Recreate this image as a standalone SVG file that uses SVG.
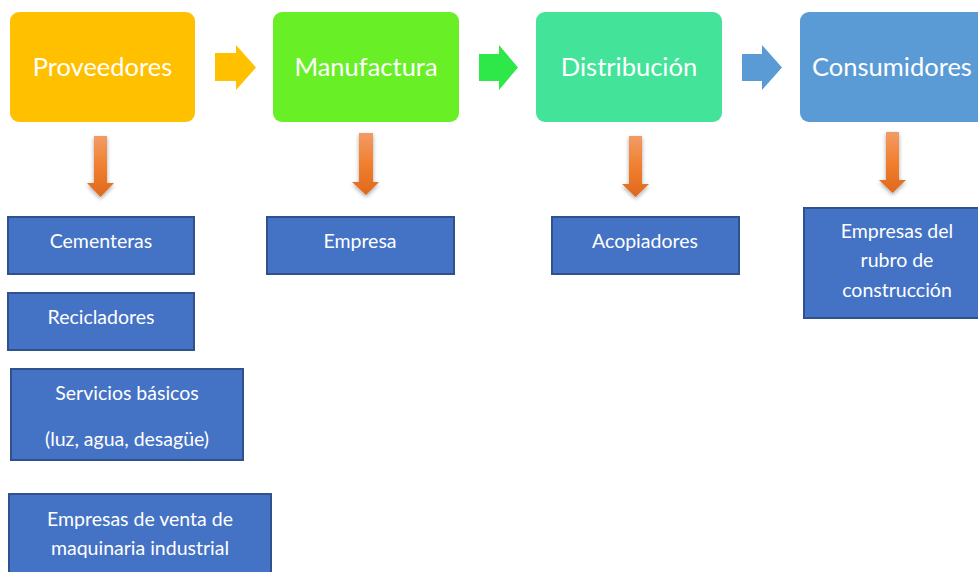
<svg xmlns="http://www.w3.org/2000/svg" width="978" height="572" viewBox="0 0 978 572">
<defs>
<style>
.hdr{font-family:Lato,"Open Sans",sans-serif;font-size:25.5px;fill:#fff;text-anchor:middle;dominant-baseline:central}
.sub{font-family:Lato,"Open Sans",sans-serif;font-size:19.5px;fill:#fff;text-anchor:middle;dominant-baseline:central}
.leaf{fill:#4472C4;stroke:#2F528F;stroke-width:2}
.down{fill:url(#og);filter:url(#sh)}
</style>
<linearGradient id="og" x1="0" y1="0" x2="0" y2="1">
<stop offset="0" stop-color="#F29B66"/>
<stop offset="0.5" stop-color="#F07F2E"/>
<stop offset="1" stop-color="#E0681C"/>
</linearGradient>
<filter id="sh" x="-50%" y="-20%" width="200%" height="150%">
<feGaussianBlur in="SourceAlpha" stdDeviation="2"/>
<feOffset dx="0" dy="2"/>
<feComponentTransfer><feFuncA type="linear" slope="0.35"/></feComponentTransfer>
<feMerge><feMergeNode/><feMergeNode in="SourceGraphic"/></feMerge>
</filter>
</defs>
<rect width="978" height="572" fill="#fff"/>

<g id="proveedores"><rect x="10" y="12" width="185" height="110" rx="9" fill="#FFC000"/><text class="hdr" x="102.5" y="66">Proveedores</text></g>
<g id="manufactura"><rect x="273" y="12" width="186" height="110" rx="9" fill="#69EF26"/><text class="hdr" x="366" y="66">Manufactura</text></g>
<g id="distribucion"><rect x="536" y="12" width="186" height="110" rx="9" fill="#43E39A"/><text class="hdr" x="629" y="66">Distribución</text></g>
<g id="consumidores"><rect x="800" y="12" width="190" height="110" rx="9" fill="#5B9BD5"/><text class="hdr" x="892" y="66">Consumidores</text></g>

<g id="connectors">
<polygon points="215,53 236,53 236,45 256,67.5 236,90 236,81 215,81" fill="#FFC000"/>
<polygon points="479,54 499,54 499,45 518,67.5 499,90 499,81 479,81" fill="#2EE84A"/>
<polygon points="742,54 762,54 762,45 782,67.5 762,90 762,81 742,81" fill="#5B9BD5"/>
<polygon class="down" points="94,136 107,136 107,183 114,183 100.5,197 87,183 94,183"/>
<polygon class="down" points="359,133 373,133 373,182 379,182 366,195 352,182 359,182"/>
<polygon class="down" points="629,136 642,136 642,184 649,184 635.5,197 622,184 629,184"/>
<polygon class="down" points="886,132 899,132 899,180 906,180 892.5,193 879,180 886,180"/>
</g>

<g id="cementeras"><rect class="leaf" x="8" y="217" width="186" height="57"/><text class="sub" x="101" y="240">Cementeras</text></g>
<g id="recicladores"><rect class="leaf" x="8" y="293" width="186" height="57"/><text class="sub" x="101" y="316">Recicladores</text></g>
<g id="servicios"><rect class="leaf" x="11" y="369" width="232" height="91"/><text class="sub" x="127" y="392">Servicios básicos</text><text class="sub" x="127" y="438">(luz, agua, desagüe)</text></g>
<g id="maquinaria"><rect class="leaf" x="9" y="494" width="262" height="90"/><text class="sub" x="140" y="518">Empresas de venta de</text><text class="sub" x="140" y="547">maquinaria industrial</text></g>
<g id="empresa"><rect class="leaf" x="267" y="217" width="187" height="57"/><text class="sub" x="360" y="240">Empresa</text></g>
<g id="acopiadores"><rect class="leaf" x="552" y="217" width="187" height="57"/><text class="sub" x="645" y="240">Acopiadores</text></g>
<g id="empresas-construccion"><rect class="leaf" x="804" y="208" width="186" height="110"/><text class="sub" x="897" y="230">Empresas del</text><text class="sub" x="897" y="259">rubro de</text><text class="sub" x="897" y="289">construcción</text></g>
</svg>
